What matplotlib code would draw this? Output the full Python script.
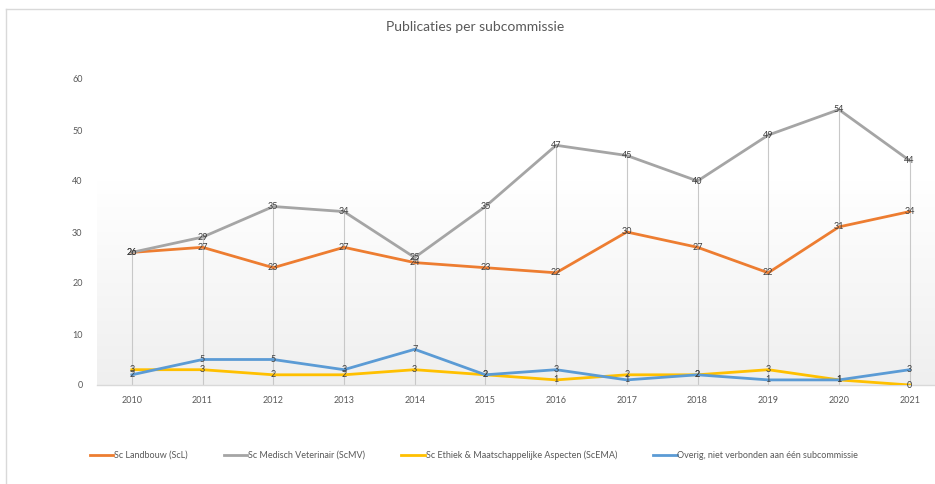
import matplotlib
matplotlib.use("Agg")
import matplotlib.pyplot as plt
import numpy as np
from matplotlib.lines import Line2D

plt.rcParams['font.family'] = ['Lato', 'DejaVu Sans']

years = ["2010", "2011", "2012", "2013", "2014", "2015", "2016", "2017", "2018", "2019", "2020", "2021"]
scl = [26, 27, 23, 27, 24, 23, 22, 30, 27, 22, 31, 34]
scmv = [26, 29, 35, 34, 25, 35, 47, 45, 40, 49, 54, 44]
scema = [3, 3, 2, 2, 3, 2, 1, 2, 2, 3, 1, 0]
overig = [2, 5, 5, 3, 7, 2, 3, 1, 2, 1, 1, 3]

series_names = ["Sc Landbouw (ScL)", "Sc Medisch Veterinair (ScMV)",
                "Sc Ethiek & Maatschappelijke Aspecten (ScEMA)",
                "Overig, niet verbonden aan één subcommissie"]
series_vals = [scl, scmv, scema, overig]
colors = ["#ED7D31", "#A5A5A5", "#FFC000", "#5B9BD5"]

W, H = 935, 484
fig = plt.figure(figsize=(W / 100, H / 100), dpi=100)
fig.patch.set_facecolor("white")

# chart border (top and left visible)
fig.add_artist(Line2D([6 / W, 6 / W], [0, 1 - 9 / H], transform=fig.transFigure, color="#d9d9d9", lw=1))
fig.add_artist(Line2D([6 / W, 1], [1 - 9 / H, 1 - 9 / H], transform=fig.transFigure, color="#d9d9d9", lw=1))

left = 96.5 / W
right = 945 / W
bottom = (H - 385) / H
top = (H - 79) / H
ax = fig.add_axes([left, bottom, right - left, top - bottom])
ax.set_facecolor("none")

x = np.arange(len(years))
ax.set_xlim(-0.5, len(years) - 0.5)
ax.set_ylim(0, 60)

# gradient plot-area fill
grad = np.linspace(1.0, 0.0, 256).reshape(-1, 1)
from matplotlib.colors import LinearSegmentedColormap
cmap = LinearSegmentedColormap.from_list("g", ["#ffffff", "#efefef"])
ax.imshow(grad, extent=(-0.5, len(years) - 0.5, 0, 40), aspect="auto", cmap=cmap,
          origin="upper", zorder=0, vmin=0, vmax=1)
# origin upper: first row (1.0 -> #efefef?) adjust: we want white at top
ax.images[0].set_data(np.linspace(0.0, 1.0, 256).reshape(-1, 1))

# drop lines
tops = np.max(np.array(series_vals), axis=0)
ax.vlines(x, 0, tops, colors="#c8c8c8", lw=0.8, zorder=1)

for vals, c, name in zip(series_vals, colors, series_names):
    ax.plot(x, vals, color=c, lw=2.0, label=name, zorder=3, solid_joinstyle="round")

for vals in series_vals:
    for xi, v in zip(x, vals):
        ax.text(xi, v, str(v), ha="center", va="center", fontsize=6.5, color="#404040", zorder=5)

ax.set_xticks(x)
ax.set_xticklabels(years, fontsize=6.5, color="#595959")
ax.set_yticks(range(0, 61, 10))
ax.set_yticklabels([str(v) for v in range(0, 61, 10)], fontsize=6.5, color="#595959")
ax.tick_params(axis="both", length=0)
ax.tick_params(axis="x", pad=8)
ax.tick_params(axis="y", pad=10)
for s in ["top", "right", "left"]:
    ax.spines[s].set_visible(False)
ax.spines["bottom"].set_color("#d9d9d9")
ax.spines["bottom"].set_linewidth(1)
ax.spines["bottom"].set_zorder(2)

fig.text(475 / W, 1 - 27 / H, "Publicaties per subcommissie", ha="center", va="center",
         fontsize=10, color="#595959")

handles = [Line2D([0], [0], color=c, lw=2.0) for c in colors]
fig.legend(handles, series_names, loc="center", bbox_to_anchor=(474 / W, 1 - 455 / H),
           ncol=4, frameon=False, fontsize=6.5, handlelength=2.6, handletextpad=0.1,
           columnspacing=4.0, labelcolor="#595959")

fig.savefig("out.png", dpi=100)
